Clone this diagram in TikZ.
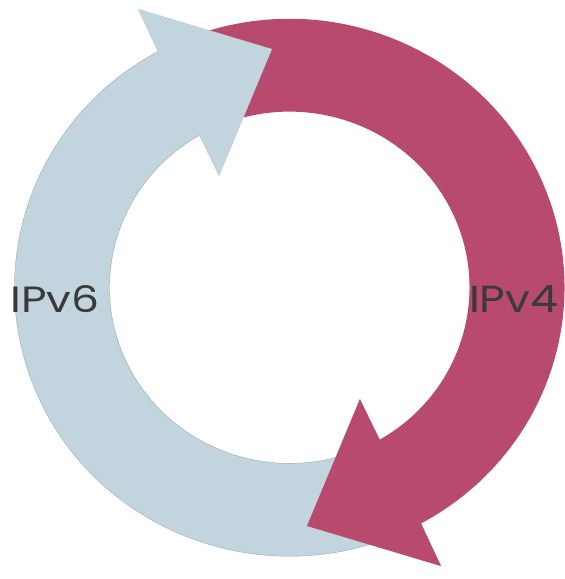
\documentclass[tikz,border=0pt]{standalone}
\usepackage{fontspec}
\usepackage{graphicx}
\setmainfont{Poppins}
\definecolor{redarrow}{RGB}{184,74,110}
\definecolor{bluearrow}{RGB}{194,212,221}
\definecolor{blueedge}{RGB}{150,165,175}
\definecolor{txt}{RGB}{58,58,58}
\tikzset{
  lbl/.style={inner sep=0pt, outer sep=0pt, text=txt, anchor=base west},
}
\newcommand{\lbltext}[1]{\resizebox{89pt}{27pt}{\fontsize{40}{40}\selectfont #1}}
\begin{document}
\begin{tikzpicture}[x=1pt,y=1pt]
\path[use as bounding box] (0,-579) rectangle (565,0);
\begin{scope}[shift={(289.5,-287.5)}, yscale=0.977]
  % blue arrow (shaft + head)
  \fill[bluearrow] (290:275) arc[start angle=290, end angle=118.6, radius=275]
     -- (118:323) -- (94.1:244.7) -- (121.7:134) -- (120.1:180)
     arc[start angle=120.1, end angle=290, radius=180] -- cycle;
  \draw[blueedge, line width=0.35pt] (290:275) arc[start angle=290, end angle=118.6, radius=275];
  \draw[blueedge, line width=0.35pt] (120.1:180) arc[start angle=120.1, end angle=290, radius=180];
  % red arrow (shaft + head)
  \fill[redarrow] (110:275) arc[start angle=110, end angle=-61.4, radius=275]
     -- (-62:323) -- (-85.9:244.7) -- (-58.3:134) -- (-59.9:180)
     arc[start angle=-59.9, end angle=110, radius=180] -- cycle;
  % blue head again, over the red tail
  \fill[bluearrow] (118.6:275) -- (118:323) -- (94.1:244.7) -- (121.7:134) -- (120.1:180) -- cycle;
\end{scope}
\node[lbl] (v6) at (10.5,-312) {\lbltext{IPv6}};
\node[lbl] (v4) at (469,-312) {\lbltext{IPv4}};
\end{tikzpicture}
\end{document}
